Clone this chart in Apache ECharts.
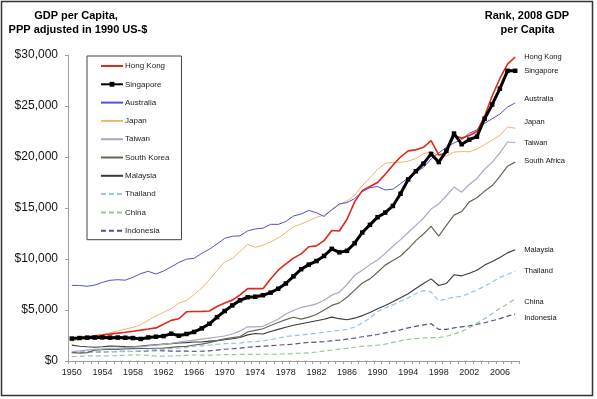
<!DOCTYPE html>
<html>
<head>
<meta charset="utf-8">
<script src="https://cdn.jsdelivr.net/npm/echarts@6/dist/echarts.min.js"></script>
<style>html,body{margin:0;padding:0;background:#fff;}#c{width:597px;height:399px;}</style>
</head>
<body>
<div id="c"></div>
<script>
var years = [];
for (var y = 1950; y <= 2008; y++) years.push(String(y));

var hongKong = [2218,2295,2377,2460,2546,2636,2729,2825,2924,3027, 3134,3244,3601,3986,4140,4825,4847,4869,4906,5344, 5695,5968,6473,7105,7091,7092,8038,8900,9522,10087, 10503,11202,11287,11795,12800,12750,13900,15600,16700,17100, 17500,18300,19200,20000,20600,20700,20950,21600,20200,20400, 22100,21850,22100,22500,24000,26000,27700,29100,29800];
var singapore = [2200,2250,2290,2300,2310,2290,2300,2280,2250,2160, 2310,2380,2440,2680,2480,2650,2850,3200,3650,4300, 4900,5450,5950,6250,6300,6450,6700,7080,7600,8300, 9000,9450,9800,10300,11000,10650,10800,11550,12600,13350, 14100,14550,15200,16400,17800,18600,19350,20300,19500,20600, 22300,21250,21700,22000,23750,25150,26700,28450,28450];
var australia = [7412,7409,7323,7444,7708,7914,7970,7927,8205,8565, 8791,8532,8816,9225,9663,9982,10071,10557,10963,11474, 12024,12232,12271,12759,12945,13020,13398,13394,13675,14217, 14412,14759,14543,14172,14826,15400,15526,15927,16600,17000, 17106,16766,16843,17379,17954,18497,18980,19800,20400,20927, 21386,21707,22322,22672,23302,23756,24208,24901,25301];
var japan = [1921,2126,2336,2474,2582,2771,2948,3136,3289,3554, 3986,4426,4777,5129,5668,5934,6506,7152,7983,8874, 9714,10040,10734,11434,11145,11344,11669,12064,12585,13163, 13428,13754,14078,14307,14773,15331,15679,16251,17185,17943, 18789,19355,19482,19478,19591,19857,20320,20525,20126,20074, 20481,20534,20511,20775,21230,21663,22113,22950,22820];
var taiwan = [924,988,1065,1142,1190,1248,1264,1320,1361,1409, 1491,1548,1622,1732,1850,1950,2050,2150,2250,2350, 2450,2650,2950,3350,3350,3400,3750,4100,4600,4950, 5250,5400,5600,5950,6450,6750,7500,8400,8900,9450, 9900,10550,11250,11900,12600,13300,14000,14900,15400,16200, 17050,16550,17300,17900,18800,19500,20400,21470,21420];
var southKorea = [854,780,820,1072,1110,1150,1140,1190,1220,1240, 1226,1250,1260,1330,1400,1436,1570,1650,1800,2000, 2167,2300,2400,2840,3000,3160,3480,3780,4060,4290, 4110,4300,4560,5010,5450,5700,6250,6950,7650,8050, 8700,9400,9850,10300,11000,11800,12450,13200,12250,13300, 14300,14650,15600,16000,16650,17200,18100,19100,19500];
var malaysia = [1559,1440,1390,1350,1390,1460,1445,1420,1400,1460, 1530,1590,1650,1700,1780,1800,1860,1860,1950,2000, 2080,2180,2300,2560,2700,2650,2900,3100,3300,3500, 3660,3800,3950,4100,4300,4150,4050,4200,4450,4750, 5130,5450,5800,6200,6600,7100,7600,8050,7400,7600, 8450,8350,8600,8900,9400,9750,10150,10600,10900];
var thailand = [817,860,880,930,880,930,930,920,930,990, 1078,1100,1160,1210,1260,1320,1440,1490,1560,1640, 1694,1730,1750,1870,1900,1960,2100,2240,2400,2470, 2550,2640,2720,2810,2920,3000,3100,3330,3730,4200, 4850,5200,5500,5850,6200,6600,6900,6750,5900,6100, 6250,6350,6650,6950,7350,7750,8200,8500,8800];
var china = [420,450,480,500,500,510,540,560,600,590, 560,480,470,490,520,560,590,580,570,590, 620,630,640,650,650,670,660,680,700,730, 760,800,880,980,1080,1170,1240,1350,1460,1500, 1560,1650,1820,1980,2120,2200,2260,2300,2300,2420, 2650,2900,3250,3700,4150,4650,5150,5600,6100];
var indonesia = [820,850,880,900,900,910,930,950,930,960, 1000,1010,1000,970,980,970,950,960,1000,1070, 1150,1200,1270,1350,1400,1450,1500,1560,1600,1650, 1750,1820,1850,1900,1980,2050,2150,2250,2380,2480, 2600,2750,2900,3050,3250,3400,3550,3650,3100,3100, 3250,3350,3450,3600,3750,3950,4150,4400,4600];

var seriesNames = ['Hong Kong','Singapore','Australia','Japan','Taiwan','South Korea','Malaysia','Thailand','China','Indonesia'];
var endLabels = ['Hong Kong','Singapore','Australia','Japan','Taiwan','South Africa','Malaysia','Thailand','China','Indonesia'];

var FONT = '"Liberation Sans", Arial, sans-serif';
var dataSets = [hongKong, singapore, australia, japan, taiwan, southKorea, malaysia, thailand, china, indonesia];
var colors = ['#e3261c','#000000','#5050d8','#f2b56a','#a8a8c4','#6b6455','#3a3a3a','#8fc6e4','#98c898','#50508e'];
var widths = [1.6,3,1,1,1.2,1.2,1.1,1.2,1.2,1.2];
var types = ['solid','solid','solid','solid','solid','solid','solid','dashed','dashed','dashed'];
var labelDy = [0,0,-4,-6,0,-1,0,0,3,4];

var series = dataSets.map(function(d, i){
  var s = {
    name: seriesNames[i], type: 'line', data: d,
    symbol: i === 1 ? 'rect' : 'none', symbolSize: 4.5,
    showSymbol: i === 1,
    itemStyle: {color: colors[i]},
    lineStyle: {color: colors[i], width: widths[i], type: types[i] === 'dashed' ? [5,3] : 'solid'},
    z: 10 - i,
    emphasis: {disabled: true},
    endLabel: {
      show: true, formatter: endLabels[i], distance: 9,
      offset: [0, labelDy[i]], fontSize: 7.5, fontFamily: FONT, color: '#111'
    }
  };
  if (i === 1) s.z = 12;
  if (i === 0) s.z = 11;
  return s;
});

var legendData = seriesNames.map(function(n, i){
  return {name: n, itemStyle: {opacity: i === 1 ? 1 : 0}};
});

var chart = echarts.init(document.getElementById('c'), null, {renderer: 'canvas'});
chart.setOption({
  animation: false,
  backgroundColor: '#fff',
  textStyle: {fontFamily: FONT},
  grid: {left: 68, right: 78, top: 55, bottom: 38, containLabel: false},
  legend: {
    orient: 'vertical', left: 87, top: 56,
    data: legendData,
    itemWidth: 22, itemHeight: 6, itemGap: 10.3,
    padding: [6, 12, 5, 13],
    borderColor: '#444', borderWidth: 1,
    selectedMode: false,
    textStyle: {fontSize: 8, fontFamily: FONT, color: '#222', padding: [0,0,0,-3]}
  },
  xAxis: {
    type: 'category', data: years, boundaryGap: true,
    axisLine: {lineStyle: {color: '#a0a0a0', width: 1}},
    axisTick: {show: true, interval: 0, length: 3, lineStyle: {color: '#a0a0a0'}},
    axisLabel: {interval: 3, fontSize: 9, margin: 7, color: '#222', fontFamily: FONT},
    splitLine: {show: false}
  },
  yAxis: {
    type: 'value', min: 0, max: 30000, interval: 5000,
    axisLine: {show: true, lineStyle: {color: '#a0a0a0', width: 1}},
    axisTick: {show: true, length: 3, lineStyle: {color: '#a0a0a0'}},
    axisLabel: {fontSize: 12, margin: 10, color: '#111', fontFamily: FONT,
      formatter: function(v){ return '$' + v.toLocaleString('en-US'); }},
    splitLine: {show: false}
  },
  graphic: [
    {type: 'rect', shape: {x: 1.5, y: 1.5, width: 591, height: 394}, style: {fill: 'none', stroke: '#333', lineWidth: 1.5}, silent: true, z: 100},
    {type: 'text', x: 76, y: 16, style: {text: 'GDP per Capita,', textAlign: 'center', textVerticalAlign: 'middle', font: 'bold 11px ' + FONT, fill: '#000'}},
    {type: 'text', x: 78, y: 30, style: {text: 'PPP adjusted in 1990 US-$', textAlign: 'center', textVerticalAlign: 'middle', font: 'bold 11px ' + FONT, fill: '#000'}},
    {type: 'text', x: 527, y: 16, style: {text: 'Rank, 2008 GDP', textAlign: 'center', textVerticalAlign: 'middle', font: 'bold 11px ' + FONT, fill: '#000'}},
    {type: 'text', x: 527.5, y: 30, style: {text: 'per Capita', textAlign: 'center', textVerticalAlign: 'middle', font: 'bold 11px ' + FONT, fill: '#000'}}
  ],
  series: series
});
</script>
</body>
</html>
